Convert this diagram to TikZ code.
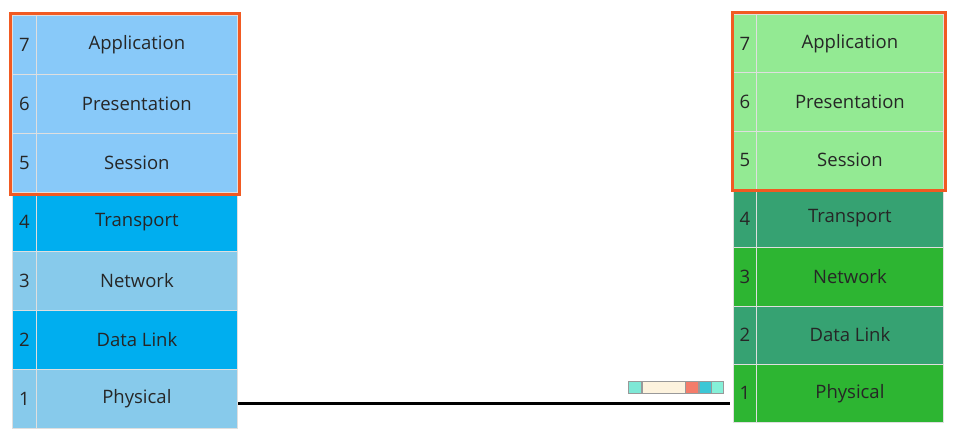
\documentclass[tikz,border=0pt]{standalone}
\usepackage{fontspec}
\setmainfont{Open Sans}
\usetikzlibrary{positioning}
\definecolor{bluelight}{HTML}{88C9F9}
\definecolor{bluebright}{HTML}{00AEEF}
\definecolor{bluesky}{HTML}{87CAEB}
\definecolor{greenlight}{HTML}{93EA93}
\definecolor{greensea}{HTML}{36A272}
\definecolor{greenbright}{HTML}{2DB532}
\definecolor{frameorange}{HTML}{F15A22}
\definecolor{pkta}{HTML}{7EE8D6}
\definecolor{pktb}{HTML}{FDF3DE}
\definecolor{pktc}{HTML}{F47C6A}
\definecolor{pktd}{HTML}{3CC7D6}
\definecolor{pkte}{HTML}{85F0D8}
\tikzset{
  cell/.style={draw=white!75!gray, line width=0.8pt, inner sep=0pt, anchor=north west,
    font=\fontsize{18.5}{22}\selectfont, text=black!85},
  frame/.style={draw=frameorange, line width=3pt},
  wire/.style={draw=black, line width=3pt},
  pkt/.style={draw=gray!80, line width=0.6pt, inner sep=0pt, minimum height=12pt, anchor=west}
}
\begin{document}
\begin{tikzpicture}[x=1pt,y=-1pt]
\useasboundingbox (0,0) rectangle (955,436);
% left stack
\foreach \n/\name/\col [count=\i from 0] in {7/Application/bluelight,6/Presentation/bluelight,5/Session/bluelight,4/Transport/bluebright,3/Network/bluesky,2/Data Link/bluebright,1/Physical/bluesky}{
  \node[cell, fill=\col, minimum width=24pt, minimum height=59pt] (Ln\n) at (12,15+59*\i) {\n};
  \node[cell, fill=\col, minimum width=201pt, minimum height=59pt] (L\n) at (36,15+59*\i) {\name};
}
% right stack
\foreach \n/\name/\col [count=\i from 0] in {7/Application/greenlight,6/Presentation/greenlight,5/Session/greenlight,4/Transport/greensea,3/Network/greenbright,2/Data Link/greensea,1/Physical/greenbright}{
  \node[cell, fill=\col, minimum width=23pt, minimum height=58.3pt] (Rn\n) at (733,14+58.3*\i) {\n};
  \node[cell, fill=\col, minimum width=187pt, minimum height=58.3pt] (R\n) at (756,14+58.3*\i) {\name};
}
% orange frames
\draw[frame] ([shift={(-1.5,-1.5)}]Ln7.north west) rectangle ([shift={(1.5,1.5)}]L5.south east);
\draw[frame] ([shift={(-0.5,-1)}]Rn7.north west) rectangle ([shift={(1.5,1)}]R5.south east);
% wire
\coordinate (wireA) at (238,403);
\coordinate (wireB) at (730,403);
\draw[wire] (wireA) -- (wireB);
% packet
\node[pkt, fill=pkta, minimum width=13pt] (p1) at (628,387) {};
\node[pkt, fill=pktb, minimum width=43pt, right=0pt of p1] (p2) {};
\node[pkt, fill=pktc, minimum width=13pt, right=0pt of p2] (p3) {};
\node[pkt, fill=pktd, minimum width=12pt, right=0pt of p3] (p4) {};
\node[pkt, fill=pkte, minimum width=12pt, right=0pt of p4] (p5) {};
\end{tikzpicture}
\end{document}
